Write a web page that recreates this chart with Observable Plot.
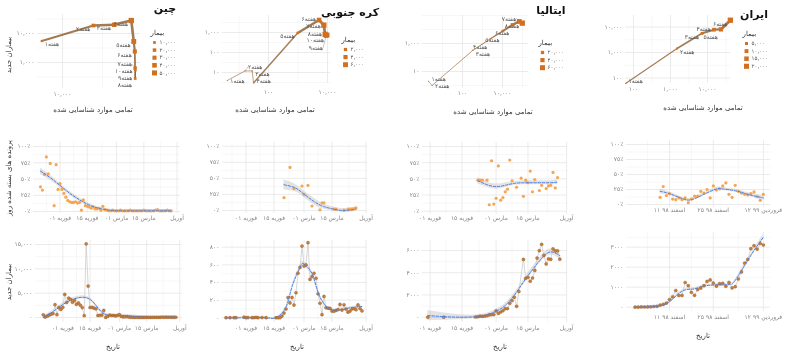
<!DOCTYPE html>
<html><head><meta charset="utf-8">
<script src="https://cdn.jsdelivr.net/npm/d3@7"></script>
<script src="https://cdn.jsdelivr.net/npm/@observablehq/plot@0.6"></script>
<style>
html,body{margin:0;padding:0;background:#fff;}
#root{position:relative;width:800px;height:359px;overflow:hidden;background:#fff;font-family:"DejaVu Sans",sans-serif;}
#root svg{overflow:visible;will-change:transform;}
</style></head><body><div id="root"></div>
<script>
// ---------------- DATA: weekly (top row) ----------------
const chinaWeek = [1,2,3,4,5,6,7,8,9,10];
const chinaTotal = [5509,24324,44386,72436,77754,80151,80778,81058,81591,82279];
const chinaNew = [5509,18815,20062,28050,5318,2397,627,280,533,688];
const chinaActive = [5300,22500,38000,57000,47500,30000,17000,9000,5500,2500];
const chinaLegend = [10000,20000,30000,40000,50000];

const koreaWeek = [1,2,3,4,5,6,7,8,9,10];
const koreaTotal = [4,16,28,31,977,5186,7513,8320,9037,9786];
const koreaNew = [4,12,12,3,946,4209,2327,807,717,749];
const koreaActive = [4,15,24,21,950,5000,7200,7000,5900,4900];
const koreaLegend = [2000,4000,6000];

const italyWeek = [1,2,3,4,5,6,7,8];
const italyTotal = [2,3,322,2502,10149,31506,69176,97689];
const italyNew = [2,1,319,2180,7647,21357,37670,28513];
const italyActive = [2,3,311,2000,8500,26000,54000,70000];
const italyLegend = [20000,40000,60000];

const iranWeek = [1,2,3,4,5,6];
const iranTotal = [61,1501,7161,14991,23049,41495];
const iranNew = [61,1440,5660,7830,8058,18446];
const iranActive = [55,1300,4500,9000,13000,22000];
const iranLegend = [5000,10000,15000,20000];

// ---------------- DATA: daily share (middle row, %) ----------------
const chinaRateStart = "2020-01-22";
const chinaRate = [38,33,57,84,58,74,null,9,72,34,43,34,28,22,17,15,14,14,15,13,14,2,18,9,8,7,5,7,4,4,5,2,8,3,2,1,1,2,1,1,1,2,1,1,1,1,2,1,1,1,1,1,1,2,1,1,1,1,1,2,3,1,1,1,1,2,1,1];
const chinaRateFitDay = [0,5,10,15,20,25,30,35,40,50,60,67];
const chinaRateFit = [62,52,40,28,18,10,5,2,1,1,1,1];
const chinaRateSe = [5,4,3,3,3,2.5,2,2,1.5,1.5,1.5,2];

const koreaRateStart = "2020-02-20";
const koreaRate = [20,null,null,67,null,34,null,null,null,38,25,null,39,null,7,null,null,null,1,12,12,null,null,null,null,2,2,null,null,null,0.5,null,2,2,2,3,4];
const koreaRateFitDay = [0,5,9,15,20,25,30,36];
const koreaRateFit = [40,36,28,14,6,2,0,2];
const koreaRateSe = [8,6,5,5,4,3,3,3];

const italyRateStart = "2020-02-22";
const italyRate = [48,48,48,null,48,10,78,11,20,70,17,21,30,34,79,47,null,37,null,51,23,48,44,62,30,49,null,32,40,null,35,39,40,60,36,52];
const italyRateFitDay = [0,4,8,12,16,20,24,28,32,35];
const italyRateFit = [47,41,38,40,43,44,44,44,44,45];
const italyRateSe = [5,4,4,3.5,3,3,3,3,3,4];

const iranRateStart = "2020-02-27";
const iranRate = [12,30,15,18,9,8,11,8,11,3,9,14,14,22,19,25,11,31,24,26,31,36,17,12,32,22,19,17,16,18,21,13,7,17];
const iranRateFitDay = [0,3,7,10,14,18,20,24,28,33];
const iranRateFit = [22,18,10,8,17,26,26,23,17,11];
const iranRateSe = [4,3,2.5,2.5,2.5,2.5,2.5,2.5,3,4];

// ---------------- DATA: daily new cases (bottom row) ----------------
const chinaDailyStart = "2020-01-22";
const chinaDaily = [548,95,277,486,669,802,2632,578,2054,1661,2089,4739,3086,3991,3733,3147,3523,2704,3015,2525,2032,373,15136,6463,2055,2100,1921,1777,408,458,473,1451,21,219,513,412,434,328,428,576,204,125,151,153,80,50,41,19,26,10,25,11,18,27,29,25,34,39,41,46,39,78,47,67,55,54,45,31,48];
const chinaDailyFitDay = [0,5,10,15,20,25,30,35,40,45,50,55,60,65,68];
const chinaDailyFit = [0,1200,2660,3700,4150,3400,1100,400,420,300,100,20,10,60,100];
const chinaDailySe = [350,300,300,300,300,300,300,250,250,250,250,250,250,300,350];

const koreaDailyStart = "2020-01-22";
const koreaDaily = [1,null,1,null,1,1,null,null,null,7,1,3,null,1,2,5,1,null,3,null,1,null,null,null,null,1,1,1,20,53,100,229,169,231,144,284,505,571,813,586,599,851,435,467,505,448,272,165,35,242,114,110,107,76,74,84,93,152,87,147,98,64,76,100,104,91,146,105,78];
const koreaDailyFitDay = [0,10,20,25,30,33,37,39,43,46,49,52,57,62,68];
const koreaDailyFit = [0,0,0,0,120,350,570,610,500,290,160,95,90,113,128];
const koreaDailySe = [10,8,8,8,15,20,25,25,25,20,15,12,12,12,15];

const italyDailyStart = "2020-01-31";
const italyDaily = [2,null,null,null,null,null,null,1,null,null,null,null,null,null,null,null,null,null,null,null,null,17,42,93,74,93,131,202,233,240,566,342,466,587,769,778,1247,1492,1797,977,2313,null,5198,3497,3590,3233,3526,4207,5322,5986,6557,5560,4789,5249,5210,6153,5959,5974,5217];
const italyDailyFitDay = [0,7,14,21,25,29,34,39,43,48,52,55,58];
const italyDailyFit = [150,50,0,30,150,450,1050,2250,3450,4800,5700,5850,5550];
const italyDailySe = [450,320,220,160,150,150,180,200,220,250,260,280,350];

const iranDailyStart = "2020-02-19";
const iranDaily = [2,3,13,10,15,18,34,44,106,143,205,385,523,835,586,591,1234,1076,743,595,881,958,1075,1289,1365,1209,1053,1178,1192,1046,1237,966,1028,1411,1762,2206,2389,2926,3076,2901,3186,3110];
const iranDailyFitDay = [0,6,10,13,16,19,23,29,31,32,35,38,41];
const iranDailyFit = [0,33,167,550,866,917,1083,1117,1167,1333,2083,2833,3500];
const iranDailySe = [60,50,50,60,60,60,60,60,60,60,70,90,130];

// ---------------- tick labels ----------------
const gregTicks = ["2020-02-01","2020-02-15","2020-03-01","2020-03-15","2020-04-01"];
const gregLabels = ["۰۱ فوریه","۱۵ فوریه","۰۱ مارس","۱۵ مارس","آوریل"];
const iranTicks = ["2020-03-01","2020-03-15","2020-03-31"];
const iranLabels = ["۱۱ اسفند ۹۸","۲۵ اسفند ۹۸","۱۲ فروردین ۹۹"];
const pctTicks = [0,25,50,75,100];

// ---------------- helpers ----------------
const root = document.getElementById("root");
const FA = "۰۱۲۳۴۵۶۷۸۹";
const fa = s => String(s).replace(/[0-9]/g, d => FA[+d]);
const comma = n => fa(d3.format(",")(n));
const plain = n => fa(String(n));
const pct = n => fa(n) + "٪";
const day0 = s => new Date(s + "T00:00:00Z");
const addDays = (d, n) => new Date(+d + n * 864e5);
const lg = Math.log10;
const GRID = "#e6e6e6", GRID2 = "#f2f2f2", TICK = "#858585";
const FONT = "DejaVu Sans, sans-serif";

function logDomX(v0, p0, ppd, a, b) { return [10 ** (lg(v0) + (a - p0) / ppd), 10 ** (lg(v0) + (b - p0) / ppd)]; }
function logDomY(v0, p0, ppd, top, bottom) { return [10 ** (lg(v0) - (bottom - p0) / ppd), 10 ** (lg(v0) - (top - p0) / ppd)]; }
function linDomY(p0, v0, p1, v1, top, bottom) { const f = p => v0 + (p - p0) * (v1 - v0) / (p1 - p0); return [f(bottom), f(top)]; }
function timeDom(d0, p0, k, a, b) { return [addDays(day0(d0), (a - p0) / k), addDays(day0(d0), (b - p0) / k)]; }
const inside = (v, dom) => v >= Math.min(+dom[0], +dom[1]) - 1e-9 && v <= Math.max(+dom[0], +dom[1]) + 1e-9;

function place(area, pad, opts) {
  const [x0, x1, y0, y1] = area;
  const svg = Plot.plot(Object.assign({
    width: x1 - x0 + pad[0] + pad[1], height: y1 - y0 + pad[2] + pad[3],
    marginLeft: pad[0], marginRight: pad[1], marginTop: pad[2], marginBottom: pad[3],
    style: {fontFamily: FONT, fontSize: "6px", background: "transparent", overflow: "visible", color: TICK}
  }, opts));
  svg.style.position = "absolute";
  svg.style.left = (x0 - pad[0]) + "px";
  svg.style.top = (y0 - pad[2]) + "px";
  root.appendChild(svg);
  return svg;
}

// overlay svg for titles / axis titles
const NS = "http://www.w3.org/2000/svg";
const overlay = document.createElementNS(NS, "svg");
overlay.setAttribute("width", 800); overlay.setAttribute("height", 359);
overlay.style.cssText = "position:absolute;left:0;top:0;pointer-events:none;";
function label(text, x, y, size, opts = {}) {
  const t = document.createElementNS(NS, "text");
  t.textContent = text;
  t.setAttribute("x", x); t.setAttribute("y", y);
  t.setAttribute("text-anchor", "middle");
  t.setAttribute("dominant-baseline", "central");
  t.setAttribute("font-family", FONT);
  t.setAttribute("font-size", size);
  t.setAttribute("fill", opts.color || "#333");
  if (opts.bold) t.setAttribute("font-weight", "bold");
  if (opts.rot) t.setAttribute("transform", `rotate(-90 ${x} ${y})`);
  overlay.appendChild(t);
}

// ---------------- top row: weekly trajectory ----------------
function topPanel(c) {
  const pts = c.week.map((w, i) => ({w, total: c.total[i], nw: c.nw[i], act: c.act[i]}));
  const segs = pts.slice(1).map((d, i) => ({a: pts[i], b: d}));
  const maxA = d3.max(c.act);
  const xd = logDomX(c.xcal[0], c.xcal[1], c.xcal[2], c.area[0], c.area[1]);
  const yd = logDomY(c.ycal[0], c.ycal[1], c.ycal[2], c.area[2], c.area[3]);
  const rScale = {type: "sqrt", domain: [0, maxA], range: [0.5, 3]};
  // label repel (like ggrepel) in pixel space, mapped back to data space
  const X = v => c.xcal[1] + c.xcal[2] * (lg(v) - lg(c.xcal[0]));
  const Y = v => c.ycal[1] - c.ycal[2] * (lg(v) - lg(c.ycal[0]));
  const iX = p => 10 ** (lg(c.xcal[0]) + (p - c.xcal[1]) / c.xcal[2]);
  const iY = p => 10 ** (lg(c.ycal[0]) - (p - c.ycal[1]) / c.ycal[2]);
  const mid = (c.area[0] + c.area[1]) / 2;
  const labs = pts.map(p => {
    const px = X(p.total), py = Y(p.nw), start = px < mid;
    const lx = start ? px + 3 : px - 3, ly = py + 3.5;
    return {p, px, py, start, text: "هفته" + fa(p.w), w: 11 + 3.6 * String(p.w).length, lx, ly, lx0: lx, ly0: ly};
  });
  const H = 7;
  const box = L => { const l = L.start ? L.lx : L.lx - L.w; return [l, l + L.w, L.ly - H / 2, L.ly + H / 2]; };
  for (let it = 0; it < 400; it++) {
    for (let a = 0; a < labs.length; a++) for (let b = a + 1; b < labs.length; b++) {
      const A = box(labs[a]), B = box(labs[b]);
      const hov = Math.min(A[1], B[1]) - Math.max(A[0], B[0]);
      const vov = Math.min(A[3], B[3]) - Math.max(A[2], B[2]);
      if (hov > 0 && vov > 0) {
        if (hov < vov * 0.8) {
          const s = (A[0] + A[1] < B[0] + B[1] || (A[0] + A[1] === B[0] + B[1] && a < b)) ? 1 : -1;
          labs[a].lx -= s * (hov / 2 + 0.2); labs[b].lx += s * (hov / 2 + 0.2);
        } else {
          const s = (labs[a].ly < labs[b].ly || (labs[a].ly === labs[b].ly && a < b)) ? 1 : -1;
          labs[a].ly -= s * (vov / 2 + 0.2); labs[b].ly += s * (vov / 2 + 0.2);
        }
      }
    }
    labs.forEach(L => {
      L.lx += (L.lx0 - L.lx) * 0.01; L.ly += (L.ly0 - L.ly) * 0.01;
      const bx = box(L);
      if (bx[0] < c.area[0] - 22) L.lx += c.area[0] - 22 - bx[0];
      if (bx[1] > c.area[1] + 4) L.lx -= bx[1] - c.area[1] - 4;
      L.ly = Math.max(c.area[2] + 3, Math.min(c.area[3] - 2.5, L.ly));
    });
  }
  const leaders = labs.filter(L => Math.hypot(L.ly - L.ly0, L.lx - L.lx0) > 6);
  place(c.area, [30, 6, 6, 14], {
    x: {type: "log", domain: xd, axis: null},
    y: {type: "log", domain: yd, axis: null},
    r: rScale,
    marks: [
      Plot.ruleX(c.gx.filter(v => inside(v, xd)), {stroke: GRID2, strokeWidth: 0.6}),
      Plot.ruleY(c.gy.filter(v => inside(v, yd)), {stroke: GRID2, strokeWidth: 0.6}),
      Plot.ruleX(c.xt, {stroke: GRID, strokeWidth: 0.8}),
      Plot.ruleY(c.yt, {stroke: GRID, strokeWidth: 0.8}),
      Plot.text(c.xt, {x: d => d, frameAnchor: "bottom", dy: c.xdy, text: d => comma(d), fill: TICK, fontSize: 6}),
      Plot.text(c.yt, {y: d => d, frameAnchor: "left", dx: -3, textAnchor: "end", text: d => comma(d), fill: TICK, fontSize: 6}),
      Plot.link(leaders, {x1: d => d.p.total, y1: d => d.p.nw, x2: d => iX(d.lx), y2: d => iY(d.ly), stroke: "#777", strokeWidth: 0.4}),
      Plot.link(segs, {x1: d => d.a.total, y1: d => d.a.nw, x2: d => d.b.total, y2: d => d.b.nw,
        stroke: "#8b5a2b", strokeOpacity: 0.8, strokeWidth: d => 0.6 + 2.2 * Math.sqrt(d.b.act / maxA)}),
      Plot.dot(pts, {x: "total", y: "nw", r: "act", symbol: "square", fill: "#d2701f"}),
      Plot.text(labs.filter(L => L.start), {x: d => iX(d.lx), y: d => iY(d.ly), text: "text", textAnchor: "start", fill: "#555", fontSize: 6}),
      Plot.text(labs.filter(L => !L.start), {x: d => iX(d.lx), y: d => iY(d.ly), text: "text", textAnchor: "end", fill: "#555", fontSize: 6})
    ]
  });
  // size legend, drawn with the same r scale
  const h = c.legend.length * 7.6 + 14;
  const svg = Plot.plot({
    width: 40, height: h, margin: 0,
    x: {domain: [0, 40], range: [0, 40], axis: null},
    y: {domain: [0, h], range: [0, h], axis: null},
    r: rScale,
    style: {fontFamily: FONT, background: "transparent", overflow: "visible"},
    marks: [
      Plot.text(["بیمار"], {x: () => 0, y: () => 4, text: d => d, textAnchor: "start", fontSize: 7, fill: "#333"}),
      Plot.dot(c.legend, {x: () => 4, y: (d, i) => 14 + i * 7.6, r: d => d, symbol: "square", fill: "#d2701f"}),
      Plot.text(c.legend, {x: () => 9, y: (d, i) => 14 + i * 7.6, text: d => comma(d), textAnchor: "start", fontSize: 5.5, fill: "#555"})
    ]
  });
  svg.style.position = "absolute"; svg.style.left = c.leg[0] + "px"; svg.style.top = c.leg[1] + "px";
  root.appendChild(svg);
}

function timeGrid(ticks, dom) {
  const t = ticks.map(day0);
  const out = [];
  for (let i = 0; i < t.length - 1; i++) out.push(new Date((+t[i] + +t[i + 1]) / 2));
  out.push(new Date(+t[0] - (+t[1] - +t[0]) / 2));
  out.push(new Date(+t[t.length - 1] + (+t[t.length - 1] - +t[t.length - 2]) / 2));
  return {major: t.filter(d => inside(+d, dom)), minor: out.filter(d => inside(+d, dom))};
}
function valGrid(ticks, dom) {
  const step = ticks[1] - ticks[0];
  const minor = [];
  for (let v = ticks[0] - step / 2; v <= ticks[ticks.length - 1] + step; v += step) minor.push(v);
  return minor.filter(v => inside(v, dom));
}

// ---------------- middle + bottom rows ----------------
function seriesPanel(c) {
  const pts = c.vals.map((v, i) => ({d: addDays(day0(c.start), i), v})).filter(p => p.v != null);
  const fit = c.fitDay.map((k, i) => ({d: addDays(day0(c.start), k), v: c.fit[i], se: c.se[i]}));
  const xd = timeDom(c.xcal[0], c.xcal[1], c.xcal[2], c.area[0], c.area[1]);
  const yd = linDomY(c.ycal[0], 0, c.ycal[1], c.ycal[2], c.area[2], c.area[3]);
  const tg = timeGrid(c.ticks, xd);
  const marks = [
    Plot.ruleX(tg.minor, {stroke: GRID2, strokeWidth: 0.6}),
    Plot.ruleY(valGrid(c.yt, yd), {stroke: GRID2, strokeWidth: 0.6}),
    Plot.ruleX(tg.major, {stroke: GRID, strokeWidth: 0.8}),
    Plot.ruleY(c.yt, {stroke: GRID, strokeWidth: 0.8}),
    Plot.text(c.ticks.map(day0), {x: d => d, frameAnchor: "bottom", dy: c.xdy, text: (d, i) => c.labels[i], fill: TICK, fontSize: 6}),
    Plot.text(c.yt, {y: d => d, frameAnchor: "left", dx: -3, textAnchor: "end", text: d => c.fmt(d), fill: TICK, fontSize: 6}),
    Plot.areaY(fit, {x: "d", y1: d => d.v - d.se, y2: d => d.v + d.se, curve: "natural", fill: "#b0b0b0", fillOpacity: 0.35, clip: true})
  ];
  if (c.bottom) {
    marks.push(Plot.line(pts, {x: "d", y: "v", stroke: "#c6c6c6", strokeWidth: 0.7}));
    marks.push(Plot.dot(pts, {x: "d", y: "v", r: 1.6, fill: "#c47e3c", stroke: "#8a5224", strokeWidth: 0.3}));
  } else {
    marks.push(Plot.dot(pts, {x: "d", y: "v", r: 1.6, fill: "#f6a552"}));
  }
  marks.push(Plot.line(fit, {x: "d", y: "v", curve: "natural", stroke: "#4a7de3", strokeWidth: 1, strokeDasharray: "2.5,1.6", clip: true}));
  place(c.area, [30, 6, 6, 14], {
    x: {type: "utc", domain: xd, axis: null},
    y: {domain: yd, axis: null},
    marks
  });
}

// ---------------- build ----------------
topPanel({week: chinaWeek, total: chinaTotal, nw: chinaNew, act: chinaActive, legend: chinaLegend,
  area: [37, 140, 14, 88], xcal: [1e4, 62, 80], ycal: [1e4, 33, 29], xt: [1e4], yt: [1e3, 1e4],
  gx: [10 ** 3.5, 10 ** 4.5, 1e5], gy: [10 ** 2, 10 ** 2.5, 10 ** 3.5, 10 ** 4.5], xdy: 7, leg: [150, 28]});
topPanel({week: koreaWeek, total: koreaTotal, nw: koreaNew, act: koreaActive, legend: koreaLegend,
  area: [222, 330, 15, 83], xcal: [100, 268, 29.5], ycal: [1000, 32, 20], xt: [100, 1e4], yt: [10, 100, 1000],
  gx: [10, 1000], gy: [10 ** 0.5, 10 ** 1.5, 10 ** 2.5, 10 ** 3.5], xdy: 10, leg: [341, 35]});
topPanel({week: italyWeek, total: italyTotal, nw: italyNew, act: italyActive, legend: italyLegend,
  area: [422, 528, 15, 88], xcal: [100, 462, 20], ycal: [1000, 43, 14], xt: [100, 1e4], yt: [10, 1000],
  gx: [10, 1000, 1e5], gy: [1, 100, 1e4, 1e5], xdy: 6, leg: [538, 38]});
topPanel({week: iranWeek, total: iranTotal, nw: iranNew, act: iranActive, legend: iranLegend,
  area: [625, 730, 15, 83], xcal: [100, 633, 37], ycal: [1000, 52, 25.5], xt: [100, 1e3, 1e4], yt: [100, 1e3, 1e4],
  gx: [10 ** 2.5, 10 ** 3.5, 10 ** 4.5], gy: [10 ** 1.5, 10 ** 2.5, 10 ** 3.5, 10 ** 4.5], xdy: 7, leg: [742, 29]});

seriesPanel({vals: chinaRate, start: chinaRateStart, fitDay: chinaRateFitDay, fit: chinaRateFit, se: chinaRateSe,
  area: [33, 180, 142, 213], xcal: ["2020-01-22", 40, 1.95], ycal: [211, 146, 100], yt: pctTicks, fmt: pct,
  ticks: gregTicks, labels: gregLabels, xdy: 6});
seriesPanel({vals: koreaRate, start: koreaRateStart, fitDay: koreaRateFitDay, fit: koreaRateFit, se: koreaRateSe,
  area: [222, 367, 142, 213], xcal: ["2020-02-01", 245.5, 2.0], ycal: [210, 145.7, 100], yt: pctTicks, fmt: pct,
  ticks: gregTicks, labels: gregLabels, xdy: 6});
seriesPanel({vals: italyRate, start: italyRateStart, fitDay: italyRateFitDay, fit: italyRateFit, se: italyRateSe,
  area: [422, 567, 142, 214], xcal: ["2020-02-01", 429.6, 2.276], ycal: [210.7, 146, 100], yt: pctTicks, fmt: pct,
  ticks: gregTicks, labels: gregLabels, xdy: 5});
seriesPanel({vals: iranRate, start: iranRateStart, fitDay: iranRateFitDay, fit: iranRateFit, se: iranRateSe,
  area: [626, 770, 140, 207], xcal: ["2020-03-01", 669, 3.13], ycal: [204, 144, 100], yt: pctTicks, fmt: pct,
  ticks: iranTicks, labels: iranLabels, xdy: 4});

seriesPanel({bottom: true, vals: chinaDaily, start: chinaDailyStart, fitDay: chinaDailyFitDay, fit: chinaDailyFit, se: chinaDailySe,
  area: [35, 182, 240, 322], xcal: ["2020-01-22", 42.8, 1.95], ycal: [317, 244, 15000], yt: [0, 5000, 10000, 15000], fmt: comma,
  ticks: gregTicks, labels: gregLabels, xdy: 7});
seriesPanel({bottom: true, vals: koreaDaily, start: koreaDailyStart, fitDay: koreaDailyFitDay, fit: koreaDailyFit, se: koreaDailySe,
  area: [222, 367, 240, 322], xcal: ["2020-02-01", 245.5, 2.0], ycal: [317.3, 246.7, 800], yt: [0, 200, 400, 600, 800], fmt: plain,
  ticks: gregTicks, labels: gregLabels, xdy: 7});
seriesPanel({bottom: true, vals: italyDaily, start: italyDailyStart, fitDay: italyDailyFitDay, fit: italyDailyFit, se: italyDailySe,
  area: [422, 567, 240, 322], xcal: ["2020-02-01", 429.6, 2.276], ycal: [316.7, 250, 6000], yt: [0, 2000, 4000, 6000], fmt: plain,
  ticks: gregTicks, labels: gregLabels, xdy: 7});
seriesPanel({bottom: true, vals: iranDaily, start: iranDailyStart, fitDay: iranDailyFitDay, fit: iranDailyFit, se: iranDailySe,
  area: [626, 770, 232, 311], xcal: ["2020-03-01", 669, 3.13], ycal: [306.7, 246.7, 3000], yt: [0, 1000, 2000, 3000], fmt: plain,
  ticks: iranTicks, labels: iranLabels, xdy: 7});

// ---------------- titles & axis titles ----------------
label("چین", 165, 8, 11, {bold: true, color: "#111"});
label("کره جنوبی", 350, 12, 11, {bold: true, color: "#111"});
label("ایتالیا", 551, 10, 11, {bold: true, color: "#111"});
label("ایران", 754, 14, 11, {bold: true, color: "#111"});
const XT = "تمامی موارد شناسایی شده";
label(XT, 93, 110, 7); label(XT, 275, 110, 7); label(XT, 493, 112, 7); label(XT, 703, 108, 7);
label("بیماران جدید", 9, 55, 7, {rot: true});
label("پرونده های بسته شده روز", 9, 178, 7, {rot: true});
label("بیماران جدید", 9, 282, 7, {rot: true});
label("تاریخ", 113, 347, 7); label("تاریخ", 297, 347, 7); label("تاریخ", 500, 347, 7); label("تاریخ", 703, 336, 7);
root.appendChild(overlay);
</script></body></html>
